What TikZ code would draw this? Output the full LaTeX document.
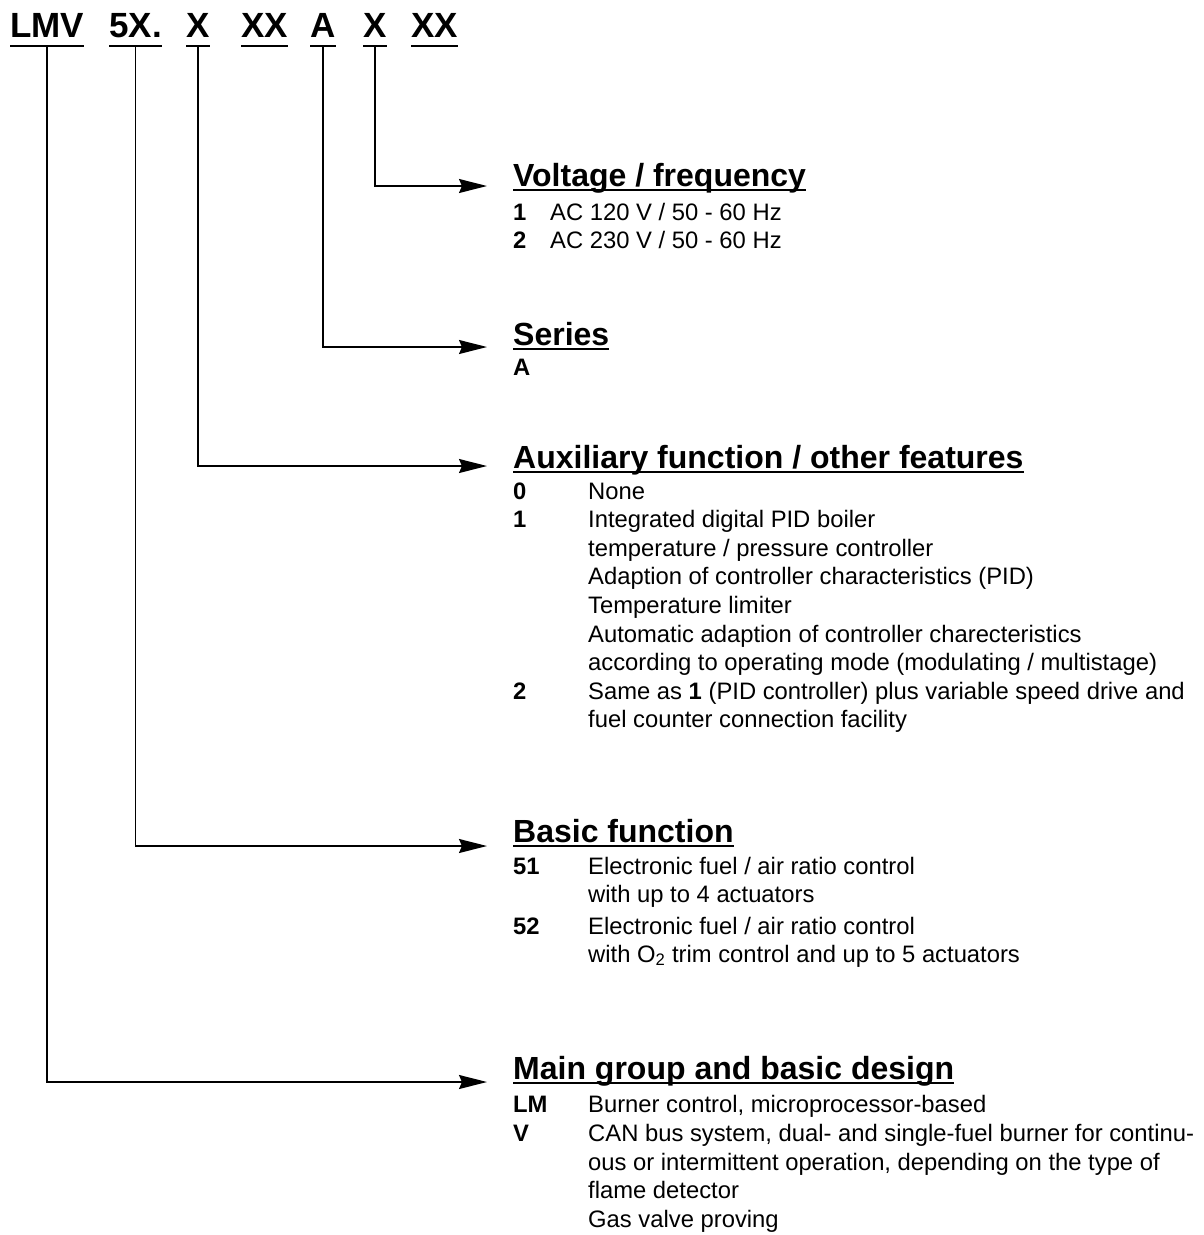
\documentclass[tikz,border=0pt]{standalone}
\usepackage{fontspec}
\setmainfont{Liberation Sans}
\usetikzlibrary{arrows.meta}
\begin{document}
\begin{tikzpicture}[x=1pt,y=-1pt,
  hdr/.style={anchor=base west,inner sep=0pt,font=\fontsize{35}{40}\selectfont\bfseries},
  ttl/.style={anchor=base west,inner sep=0pt,font=\fontsize{32}{36}\selectfont\bfseries},
  body/.style={anchor=base west,inner sep=0pt,font=\fontsize{23.8}{28}\selectfont},
  key/.style={anchor=base west,inner sep=0pt,font=\fontsize{23.8}{28}\selectfont\bfseries},
  ul/.style={line width=2.4pt},
  conn/.style={line width=1.6pt,-{Stealth[length=28pt,width=14pt,inset=3pt]}}
]
\useasboundingbox (0,0) rectangle (1204,1235);
% header
\node[hdr] (h1) at (10,37) {LMV};
\node[hdr] (h2) at (109,37) {5X.};
\node[hdr] (h3) at (186,37) {X};
\node[hdr] (h4) at (241,37) {XX};
\node[hdr] (h5) at (310,37) {A};
\node[hdr] (h6) at (363,37) {X};
\node[hdr] (h7) at (411,37) {XX};
\foreach \n in {h1,h2,h3,h4,h5,h6,h7}
  \draw[ul] ([yshift=-9pt]\n.base west) -- ([yshift=-9pt]\n.base east);
% arrow tips
\coordinate (a1) at (487,186);
\coordinate (a2) at (487,347);
\coordinate (a3) at (487,466);
\coordinate (a4) at (487,846);
\coordinate (a5) at (487,1082);
\draw[conn] ([yshift=-9pt]h6.base) |- (a1);
\draw[conn] ([yshift=-9pt]h5.base) |- (a2);
\draw[conn] ([yshift=-9pt]h3.base) |- (a3);
\draw[conn] ([yshift=-9pt]h2.base) |- (a4);
\draw[conn] ([yshift=-9pt]h1.base) |- (a5);
% titles
\node[ttl] (t1) at (513,186) {Voltage / frequency};
\node[ttl] (t2) at (513,345) {Series};
\node[ttl] (t3) at (513,468) {Auxiliary function / other features};
\node[ttl] (t4) at (513,842) {Basic function};
\node[ttl] (t5) at (513,1079) {Main group and basic design};
\foreach \n in {t1,t2,t3,t4,t5}
  \draw[ul] ([yshift=-4pt]\n.base west) -- ([yshift=-4pt]\n.base east);
% voltage
\node[key] (v1k) at (513,220) {1};
\node[body] (v1) at (550,220) {AC 120 V / 50 - 60 Hz};
\node[key] (v2k) at (513,248) {2};
\node[body] (v2) at (550,248) {AC 230 V / 50 - 60 Hz};
% series
\node[key] (s1) at (513,375) {A};
% auxiliary
\node[key] (x0k) at (513,499) {0};
\node[body] (x0) at (588,499) {None};
\node[key] (x1k) at (513,527.6) {1};
\node[body] (x1a) at (588,527.6) {Integrated digital PID boiler};
\node[body] (x1b) at (588,556.2) {temperature / pressure controller};
\node[body] (x1c) at (588,584.8) {Adaption of controller characteristics (PID)};
\node[body] (x1d) at (588,613.4) {Temperature limiter};
\node[body] (x1e) at (588,642) {Automatic adaption of controller charecteristics};
\node[body] (x1f) at (588,670.6) {according to operating mode (modulating / multistage)};
\node[key] (x2k) at (513,699.2) {2};
\node[body] (x2a) at (588,699.2) {Same as \textbf{1} (PID controller) plus variable speed drive and};
\node[body] (x2b) at (588,727.8) {fuel counter connection facility};
% basic function
\node[key] (b1k) at (513,874) {51};
\node[body] (b1a) at (588,874) {Electronic fuel / air ratio control};
\node[body] (b1b) at (588,902) {with up to 4 actuators};
\node[key] (b2k) at (513,934) {52};
\node[body] (b2a) at (588,934) {Electronic fuel / air ratio control};
\node[body] (b2b) at (588,962) {with O\textsubscript{2} trim control and up to 5 actuators};
% main group
\node[key] (m1k) at (513,1112) {LM};
\node[body] (m1) at (588,1112) {Burner control, microprocessor-based};
\node[key] (m2k) at (513,1141) {V};
\node[body] (m2a) at (588,1141) {CAN bus system, dual- and single-fuel burner for continu-};
\node[body] (m2b) at (588,1170) {ous or intermittent operation, depending on the type of};
\node[body] (m2c) at (588,1198) {flame detector};
\node[body] (m2d) at (588,1227) {Gas valve proving};
\end{tikzpicture}
\end{document}
